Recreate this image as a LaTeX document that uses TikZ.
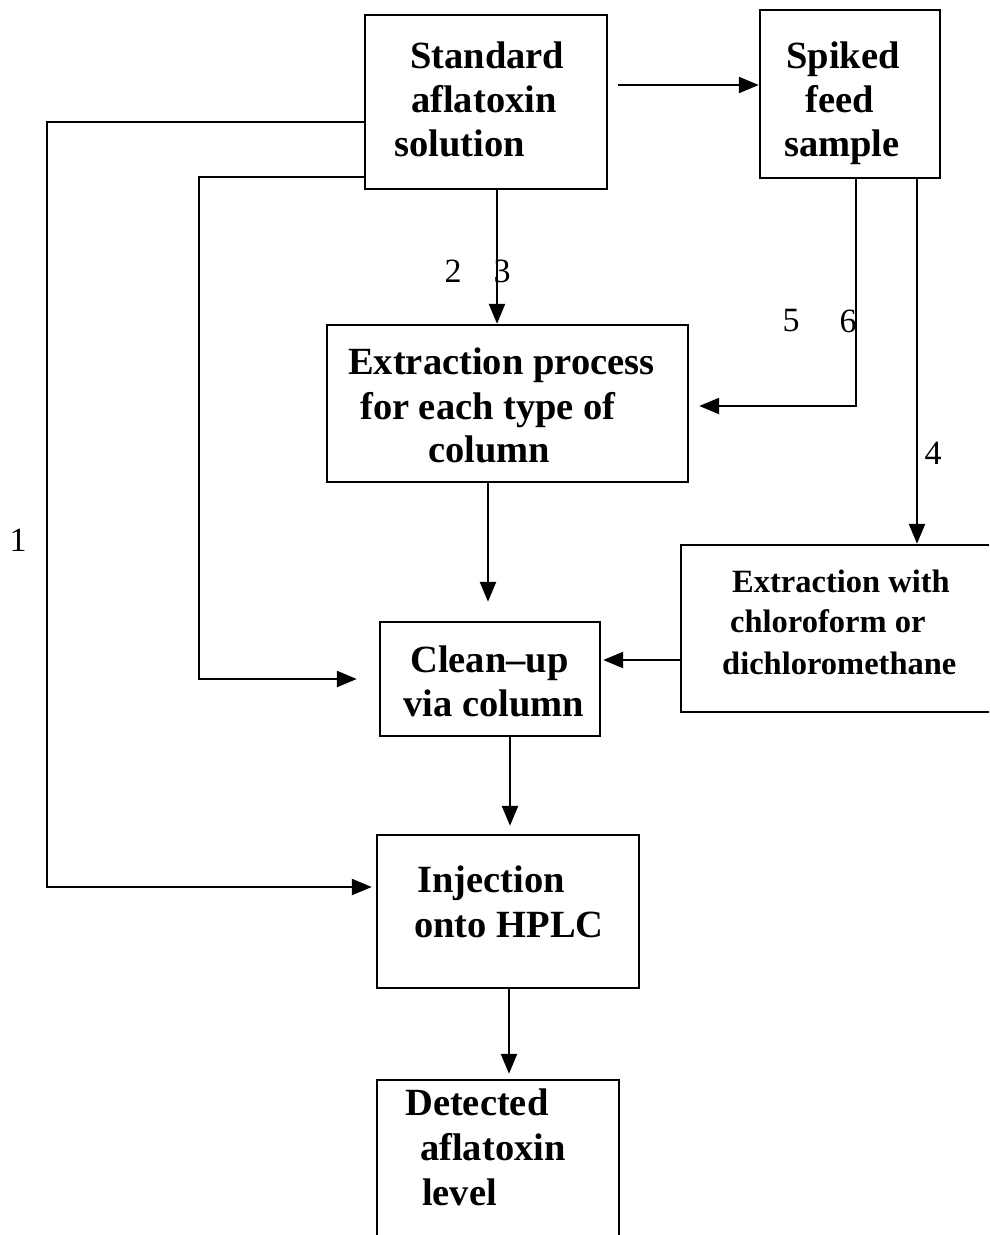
\documentclass[tikz,border=0pt]{standalone}
\usepackage{fontspec}
\setmainfont{Liberation Serif}
\usetikzlibrary{arrows.meta}
\newcommand{\bigtxt}{\fontsize{38.5}{44}\selectfont\bfseries}
\newcommand{\midtxt}{\fontsize{32.5}{40}\selectfont\bfseries}
\newcommand{\numtxt}{\fontsize{34}{38}\selectfont}
\begin{document}
\begin{tikzpicture}[x=1pt,y=-1pt,
  box/.style={draw, line width=2.4pt, inner sep=0pt},
  arr/.style={line width=2.4pt, -{Triangle[length=20pt,width=16pt]}},
  num/.style={inner sep=0pt, font=\numtxt},
  txt/.style={inner sep=0pt, anchor=base west, font=\bigtxt}]
\clip (0,0) rectangle (989,1235);
\fill[white] (0,0) rectangle (989,1235);
% boxes
\node[box, minimum width=242pt, minimum height=174pt] (std) at (486,102) {};
\node[box, minimum width=180pt, minimum height=168pt] (spk) at (850,94) {};
\node[box, minimum width=361pt, minimum height=157pt] (ext) at (507.5,403.5) {};
\node[box, minimum width=330pt, minimum height=167pt] (rbx) at (846,628.5) {};
\node[box, minimum width=220pt, minimum height=114pt] (cln) at (490,679) {};
\node[box, minimum width=262pt, minimum height=153pt] (inj) at (508,911.5) {};
\node[box, minimum width=242pt, minimum height=180pt] (det) at (498,1170) {};
% texts
\node[txt] (std-t) at (394,68)
  {\begin{tabular}[t]{@{}l@{}}\hspace*{16pt}Standard\\\hspace*{17pt}aflatoxin\\solution\end{tabular}};
\node[txt] (spk-t) at (784,68)
  {\begin{tabular}[t]{@{}l@{}}\hspace*{2pt}Spiked\\\hspace*{21pt}feed\\sample\end{tabular}};
\node[txt] (ext-t) at (348,374)
  {\begin{tabular}[t]{@{}l@{}}Extraction process\\[1pt]\hspace*{12pt}for each type of\\[-1pt]\hspace*{80pt}column\end{tabular}};
\node[txt, font=\midtxt] (rbx-t) at (722,592)
  {\begin{tabular}[t]{@{}l@{}}\hspace*{10pt}Extraction with\\\hspace*{8pt}chloroform or\\[2pt]dichloromethane\end{tabular}};
\node[txt] (cln-t) at (403,672)
  {\begin{tabular}[t]{@{}l@{}}\hspace*{7pt}Clean–up\\via column\end{tabular}};
\node[txt] (inj-t) at (414,892)
  {\begin{tabular}[t]{@{}l@{}}\hspace*{3pt}Injection\\[1pt]onto HPLC\end{tabular}};
\node[txt] (det-t) at (405,1115)
  {\begin{tabular}[t]{@{}l@{}}Detected\\[1pt]\hspace*{15pt}aflatoxin\\[1pt]\hspace*{17pt}level\end{tabular}};
% helper coordinates
\coordinate (s1) at (618,85);
\coordinate (c23) at (497,250);
\coordinate (p1) at (47,122);
\coordinate (p2) at (47,887);
\coordinate (q1) at (199,177);
\coordinate (q2) at (199,679);
\coordinate (r1) at (856,406);
\coordinate (r2) at (917,450);
\coordinate (e1) at (488,550);
\coordinate (t1) at (640,660);
\coordinate (u1) at (510,780);
\coordinate (v1) at (509,1030);
% connectors
\draw[arr] (s1) -- (spk.west |- s1);
\draw[arr] (std.south -| c23) -- (ext.north -| c23);
\draw[arr] (std.west |- p1) -- (p1) -- (p2) -- ([xshift=-4pt]inj.west |- p2);
\draw[arr] (std.west |- q1) -- (q1) -- (q2) -- ([xshift=-22pt]cln.west |- q2);
\draw[arr] (spk.south -| r1) -- (r1) -- ([xshift=10pt]ext.east |- r1);
\draw[arr] (spk.south -| r2) -- (rbx.north -| r2);
\draw[arr] (ext.south -| e1) -- ([yshift=19pt]cln.north -| e1);
\draw[arr] (rbx.west |- t1) -- ([xshift=2pt]cln.east |- t1);
\draw[arr] (cln.south -| u1) -- ([yshift=8pt]inj.north -| u1);
\draw[arr] (inj.south -| v1) -- ([yshift=5pt]det.north -| v1);
% labels
\node[num] (n1) at (18,540) {1};
\node[num] (n2) at (453,271) {2};
\node[num] (n3) at (502,271) {3};
\node[num] (n5) at (791,321) {5};
\node[num] (n6) at (848,321) {6};
\node[num] (n4) at (933,453) {4};
\end{tikzpicture}
\end{document}
